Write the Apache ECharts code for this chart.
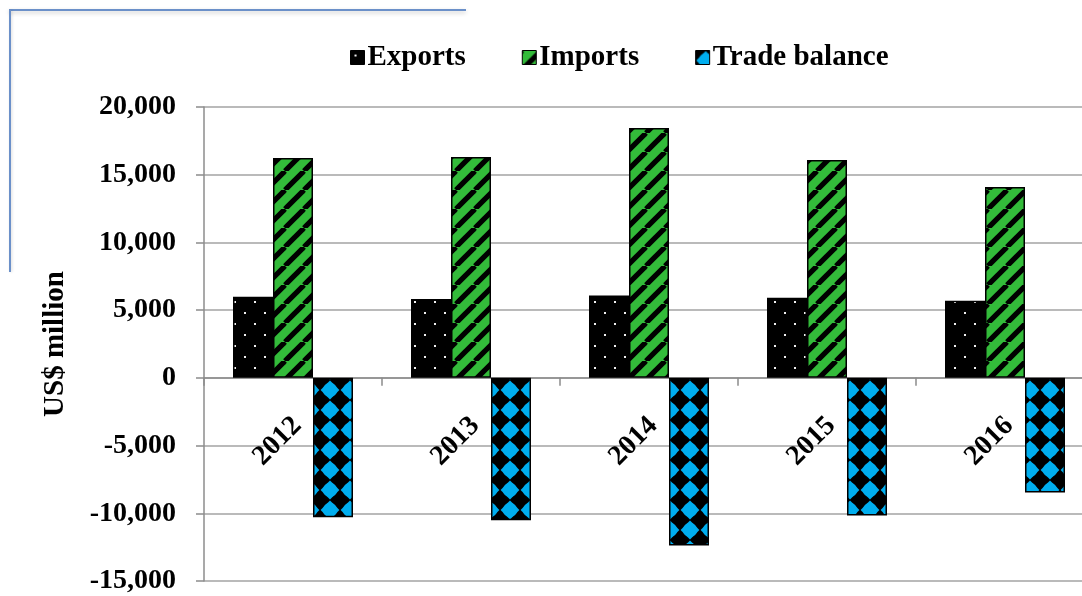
<!DOCTYPE html>
<html>
<head>
<meta charset="utf-8">
<script src="https://cdn.jsdelivr.net/npm/echarts@6/dist/echarts.min.js"></script>
<style>
  html, body { margin: 0; padding: 0; background: #fff; }
  #chart { width: 1082px; height: 596px; }
</style>
</head>
<body>
<div id="chart"></div>
<script>
// Trade figures, US$ million
const years = ['2012', '2013', '2014', '2015', '2016'];
const exportsUSD = [5980, 5830, 6080, 5920, 5700];
const importsUSD = [16240, 16310, 18450, 16090, 14100];
const tradeBalance = [-10300, -10520, -12370, -10170, -8470];

const seriesNames = ['Exports', 'Imports', 'Trade balance'];
const yMin = -15000, yMax = 20000, yStep = 5000;

const FONT = '"Liberation Serif", "Times New Roman", serif';

const W = 1082, H = 596;
const GRID = { left: 204, right: -12, top: 107, bottom: 15 };
// the category axis sits on the zero line: shift it up from the bottom edge
const plotH = H - GRID.top - GRID.bottom;
const zeroShift = plotH * (0 - yMin) / (yMax - yMin);

// Fill patterns drawn on small tiles
function tile(w, h, draw) {
  const c = document.createElement('canvas');
  c.width = w; c.height = h;
  draw(c.getContext('2d'), w, h);
  return { image: c, repeat: 'repeat' };
}

// black with a staggered grid of small white dots
const dotPattern = tile(20, 22, (g, w, h) => {
  g.fillStyle = '#000'; g.fillRect(0, 0, w, h);
  g.fillStyle = '#f0f0f0';
  g.fillRect(4, 4, 2, 2);
  g.fillRect(14, 15, 2, 2);
});

// green with black forward-diagonal stripes
const stripePattern = tile(19, 19, (g, w, h) => {
  g.fillStyle = '#33bb3a'; g.fillRect(0, 0, w, h);
  g.strokeStyle = '#000'; g.lineWidth = 5.2;
  for (let k = -1; k <= 1; k++) {
    g.beginPath();
    g.moveTo(k * w, h);
    g.lineTo(k * w + w, 0);
    g.stroke();
  }
});

// black with rounded blue diamonds on a square grid, leaving black diamonds between them
const diamondPattern = tile(20, 20, (g, w, h) => {
  g.fillStyle = '#000'; g.fillRect(0, 0, w, h);
  g.fillStyle = '#00aeef';
  g.beginPath(); g.arc(10, 10, 7.2, 0, Math.PI * 2); g.fill();
  g.beginPath();
  g.moveTo(10, 0.6); g.lineTo(19.4, 10); g.lineTo(10, 19.4); g.lineTo(0.6, 10); g.closePath();
  g.fill();
});

const chart = echarts.init(document.getElementById('chart'), null, { renderer: 'canvas' });

const barStyle = (pattern) => ({ color: pattern, borderColor: '#000', borderWidth: 1.5 });

chart.setOption({
  animation: false,
  backgroundColor: '#fff',
  graphic: [
    { type: 'line', shape: { x1: 9, y1: 10, x2: 466, y2: 10 },
      style: { stroke: '#6b90c9', lineWidth: 2, shadowBlur: 4, shadowOffsetY: 2, shadowColor: 'rgba(0,0,0,0.22)' } },
    { type: 'line', shape: { x1: 10, y1: 10, x2: 10, y2: 272 },
      style: { stroke: '#6b90c9', lineWidth: 2, shadowBlur: 3, shadowOffsetX: 1, shadowColor: 'rgba(0,0,0,0.15)' } }
  ],
  legend: {
    data: seriesNames,
    left: 345,
    top: 38,
    icon: 'rect',
    itemWidth: 14,
    itemHeight: 14,
    itemGap: 56,
    itemStyle: { borderColor: '#000', borderWidth: 1 },
    textStyle: { fontFamily: FONT, fontWeight: 'bold', fontSize: 29, color: '#000', padding: [0, 0, 0, -2] }
  },
  grid: {
    left: GRID.left, right: GRID.right, top: GRID.top, bottom: GRID.bottom,
    containLabel: false, outerBoundsMode: 'none'
  },
  xAxis: {
    type: 'category',
    data: years,
    position: 'bottom',
    offset: -zeroShift,
    axisLine: { onZero: false, lineStyle: { color: '#8c8c8c', width: 1.5 } },
    axisTick: { show: true, length: 8, alignWithLabel: false, lineStyle: { color: '#8c8c8c', width: 1.5 } },
    axisLabel: {
      interval: 0, rotate: 45, margin: 28, verticalAlign: 'top', hideOverlap: false,
      padding: [0, 8, 0, 0],
      fontFamily: FONT, fontWeight: 'bold', fontSize: 28, color: '#000'
    },
    splitLine: { show: false }
  },
  yAxis: {
    type: 'value',
    min: yMin, max: yMax, interval: yStep,
    name: 'US$ million',
    nameLocation: 'middle',
    nameGap: 134,
    nameTextStyle: { fontFamily: FONT, fontWeight: 'bold', fontSize: 29, color: '#000' },
    axisLine: { show: true, lineStyle: { color: '#8c8c8c', width: 1.5 } },
    axisTick: { show: true, length: 8, lineStyle: { color: '#8c8c8c', width: 1.5 } },
    axisLabel: {
      margin: 28,
      fontFamily: FONT, fontWeight: 'bold', fontSize: 28, color: '#000',
      formatter: (v) => v.toLocaleString('en-US')
    },
    splitLine: { show: true, lineStyle: { color: '#a3a3a3', width: 1.5 } }
  },
  series: [
    { name: seriesNames[0], type: 'bar', data: exportsUSD, barWidth: 40, barGap: '0%', itemStyle: barStyle(dotPattern) },
    { name: seriesNames[1], type: 'bar', data: importsUSD, barWidth: 40, barGap: '0%', itemStyle: barStyle(stripePattern) },
    { name: seriesNames[2], type: 'bar', data: tradeBalance, barWidth: 40, barGap: '0%', itemStyle: barStyle(diamondPattern) }
  ]
});
</script>
</body>
</html>
